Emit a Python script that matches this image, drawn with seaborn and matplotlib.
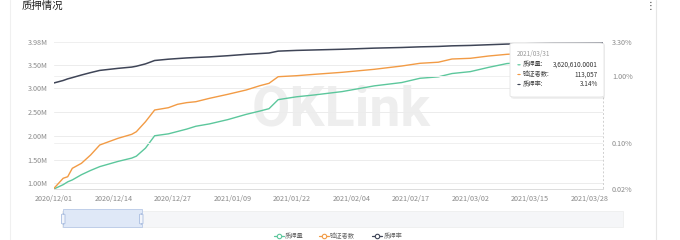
import numpy as np
import pandas as pd
import matplotlib
matplotlib.use("Agg")
import matplotlib.pyplot as plt
from matplotlib.patches import FancyBboxPatch, Rectangle, Circle
from matplotlib.lines import Line2D
from matplotlib.ticker import NullLocator, FixedLocator
import seaborn as sns

# ---------------- data ----------------
dates = ["2020-12-01", "2020-12-03", "2020-12-04", "2020-12-05", "2020-12-07", "2020-12-09",
         "2020-12-11", "2020-12-15", "2020-12-18", "2020-12-19", "2020-12-21", "2020-12-23",
         "2020-12-26", "2020-12-28", "2020-12-30", "2021-01-01", "2021-01-04", "2021-01-08",
         "2021-01-12", "2021-01-15", "2021-01-17", "2021-01-19", "2021-01-23", "2021-01-27",
         "2021-02-02", "2021-02-09", "2021-02-15", "2021-02-19", "2021-02-23", "2021-02-26",
         "2021-03-02", "2021-03-06", "2021-03-10", "2021-03-15", "2021-03-20", "2021-03-25",
         "2021-03-31"]
staked_m = [0.88, 0.97, 1.03, 1.07, 1.18, 1.27,
            1.35, 1.46, 1.53, 1.57, 1.74, 2.00,
            2.04, 2.09, 2.14, 2.20, 2.25, 2.34,
            2.45, 2.52, 2.57, 2.76, 2.82, 2.86,
            2.93, 3.05, 3.12, 3.21, 3.24, 3.31,
            3.35, 3.44, 3.52, 3.55, 3.58, 3.60,
            3.62061]
validators = [27500, 33690, 34680, 39870, 42970, 48100,
              54290, 58430, 60900, 62510, 68700, 75940,
              77360, 79460, 80500, 81070, 83170, 85650,
              88310, 90970, 92450, 96540, 97150, 98020,
              99260, 101110, 103150, 104830, 105500, 107490,
              107920, 109340, 110390, 111100, 111800, 112400,
              113057]
stake_rate = [0.79, 0.86, 0.91, 0.95, 1.04, 1.13,
              1.22, 1.31, 1.37, 1.41, 1.53, 1.72,
              1.80, 1.84, 1.88, 1.91, 1.95, 2.03,
              2.13, 2.19, 2.23, 2.38, 2.44, 2.48,
              2.54, 2.64, 2.70, 2.76, 2.80, 2.86,
              2.90, 2.97, 3.04, 3.08, 3.11, 3.12,
              3.14]
x_tick_labels = ["2020/12/01", "2020/12/14", "2020/12/27", "2021/01/09", "2021/01/22",
                 "2021/02/04", "2021/02/17", "2021/03/02", "2021/03/15", "2021/03/28"]
left_ticks_m = [1.00, 1.50, 2.00, 2.50, 3.00, 3.50, 3.98]
right_ticks = [0.02, 0.10, 1.00, 3.30]
series_names = ["质押量", "验证者数", "质押率"]
title = "质押情况"
tooltip_date = "2021/03/31"
tooltip_values = ["3,620,610.0001", "113,057", "3.14%"]

colors = ["#5cc79c", "#f29b45", "#3f4557"]

sns.set_theme(style="white")
plt.rcParams['font.family'] = ['Noto Sans CJK SC', 'DejaVu Sans']

df = pd.DataFrame({
    "date": pd.to_datetime(dates),
    "staked": np.array(staked_m) * 1e6,
    "validators": validators,
    "rate": stake_rate,
})

W, H = 680, 240
fig = plt.figure(figsize=(W / 100, H / 100), dpi=100)
fig.patch.set_facecolor("white")

def fx(px):
    return px / W

def fy(py):
    return 1 - py / H

L, R, T, B = 54, 603, 41.7, 189
ax = fig.add_axes([fx(L), fy(B), fx(R - L), (B - T) / H])
ax_r = ax.twinx()
ax_o = ax.twinx()

# lines
sns.lineplot(data=df, x="date", y="staked", ax=ax, color=colors[0], linewidth=1.0, legend=False)
sns.lineplot(data=df, x="date", y="rate", ax=ax_r, color=colors[2], linewidth=1.1, legend=False)
sns.lineplot(data=df, x="date", y="validators", ax=ax_o, color=colors[1], linewidth=1.0, legend=False)

x0 = pd.Timestamp("2020-12-01")
x1 = pd.Timestamp("2021-03-31")
for a in (ax, ax_r, ax_o):
    a.set_xlim(x0, x1)
    a.set_xlabel("")
    a.set_ylabel("")

# left axis
ax.set_ylim(0.879e6, 3.98e6)
ax.yaxis.set_major_locator(FixedLocator([v * 1e6 for v in left_ticks_m]))
ax.set_yticklabels([f"{v:.2f}M" for v in left_ticks_m])
ax.grid(axis="y", color="#ececec", linewidth=0.7)
ax.grid(axis="x", visible=False)
tick_dates = pd.to_datetime(x_tick_labels, format="%Y/%m/%d")
ax.set_xticks(tick_dates)
ax.set_xticklabels(x_tick_labels)
ax.tick_params(axis="both", length=0, labelsize=5.2, labelcolor="#8a8a8a")
ax.tick_params(axis="y", pad=4.5)
ax.tick_params(axis="x", pad=4)
for s in ("top", "left", "right"):
    ax.spines[s].set_visible(False)
ax.spines["bottom"].set_color("#dcdcdc")
ax.spines["bottom"].set_linewidth(0.7)

# right log axis
ax_r.set_yscale("log")
ax_r.set_ylim(0.02, 3.30)
ax_r.yaxis.set_major_locator(FixedLocator(right_ticks))
ax_r.yaxis.set_minor_locator(NullLocator())
ax_r.set_yticklabels([f"{v:.2f}%" for v in right_ticks])
ax_r.grid(axis="y", color="#f0f0f0", linewidth=0.7)
ax_r.grid(axis="x", visible=False)
ax_r.tick_params(axis="y", length=0, labelsize=5.2, labelcolor="#8a8a8a", pad=6.5)
for s in ax_r.spines.values():
    s.set_visible(False)

# hidden axis for validators
ax_o.set_ylim(27070, 118190)
ax_o.set_axis_off()

# watermark
ax.text(0.523, 0.53, "OKLink", transform=ax.transAxes, ha="center", va="center",
        fontsize=40, fontweight="bold", family=["Roboto", "DejaVu Sans"],
        color="#eeeeee", zorder=0.5)

# axis pointer at last date
fig.add_artist(Line2D([fx(603), fx(603)], [fy(97), fy(189)], color="#cfcfcf",
                      linewidth=0.7, linestyle=(0, (2, 2)), zorder=5))

# tooltip
shadow = FancyBboxPatch((fx(511), fy(99)), fx(94), (99 - 44) / H,
                        boxstyle="round,pad=0,rounding_size=0.006",
                        transform=fig.transFigure, facecolor="#000000", alpha=0.06,
                        edgecolor="none", zorder=9)
fig.add_artist(shadow)
tip = FancyBboxPatch((fx(510), fy(97)), fx(94), (97 - 43) / H,
                     boxstyle="round,pad=0,rounding_size=0.006",
                     transform=fig.transFigure, facecolor="white",
                     edgecolor="#e4e4e4", linewidth=0.6, zorder=10)
fig.add_artist(tip)
fig.text(fx(517), fy(54), tooltip_date, fontsize=4.6, color="#9a9a9a",
         ha="left", va="center", zorder=11)
for i, (name, val, col) in enumerate(zip(series_names, tooltip_values, colors)):
    yy = [64.8, 74.5, 84.5][i]
    fig.add_artist(Circle((fx(519), fy(yy)), 1.8 / W, transform=fig.transFigure,
                          facecolor=col, edgecolor="none", zorder=11))
    fig.text(fx(523), fy(yy), name + ":", fontsize=4.5, color="#444444",
             ha="left", va="center", zorder=11)
    fig.text(fx(598), fy(yy), val, fontsize=4.6, color="#333333",
             ha="right", va="center", zorder=11)

# data zoom slider
fig.add_artist(Rectangle((fx(62), fy(227)), fx(561), 16 / H, transform=fig.transFigure,
                         facecolor="#f5f6f8", edgecolor="#ececec", linewidth=0.5, zorder=3))
fig.add_artist(Rectangle((fx(63), fy(227)), fx(79), 18 / H, transform=fig.transFigure,
                         facecolor="#dfe8f7", edgecolor="#b8c9e6", linewidth=0.6, zorder=4))
for hx in (61.5, 139.5):
    fig.add_artist(FancyBboxPatch((fx(hx), fy(224)), fx(3.5), 10 / H,
                                  boxstyle="round,pad=0,rounding_size=0.003",
                                  transform=fig.transFigure, facecolor="#f2f5fb",
                                  edgecolor="#a9bde0", linewidth=0.6, zorder=5))

# legend
for name, col, cx, tx in zip(series_names, colors, [279, 324, 377], [285, 330, 384]):
    fig.add_artist(Line2D([fx(cx - 5), fx(cx + 5)], [fy(236), fy(236)], color=col,
                          linewidth=0.9, zorder=5))
    fig.add_artist(Line2D([fx(cx)], [fy(236)], color=col, marker="o", markersize=3.2,
                          markerfacecolor="white", markeredgewidth=0.8, linestyle="none",
                          zorder=6))
    fig.text(fx(tx), fy(236), name, fontsize=4.5, color="#666666", ha="left", va="center")

# card decorations
fig.text(fx(22), fy(5.5), title, fontsize=7.5, color="#222222", ha="left", va="center")
fig.text(fx(651), fy(6), "⋮", fontsize=7, color="#333333", ha="center", va="center",
         family=["DejaVu Sans"])
fig.add_artist(Line2D([fx(10), fx(10)], [0, 1], color="#f0f0f0", linewidth=0.8))
fig.add_artist(Line2D([fx(656), fx(656)], [0, 1], color="#e6e6e6", linewidth=0.8))

fig.savefig("out.png", dpi=100)
